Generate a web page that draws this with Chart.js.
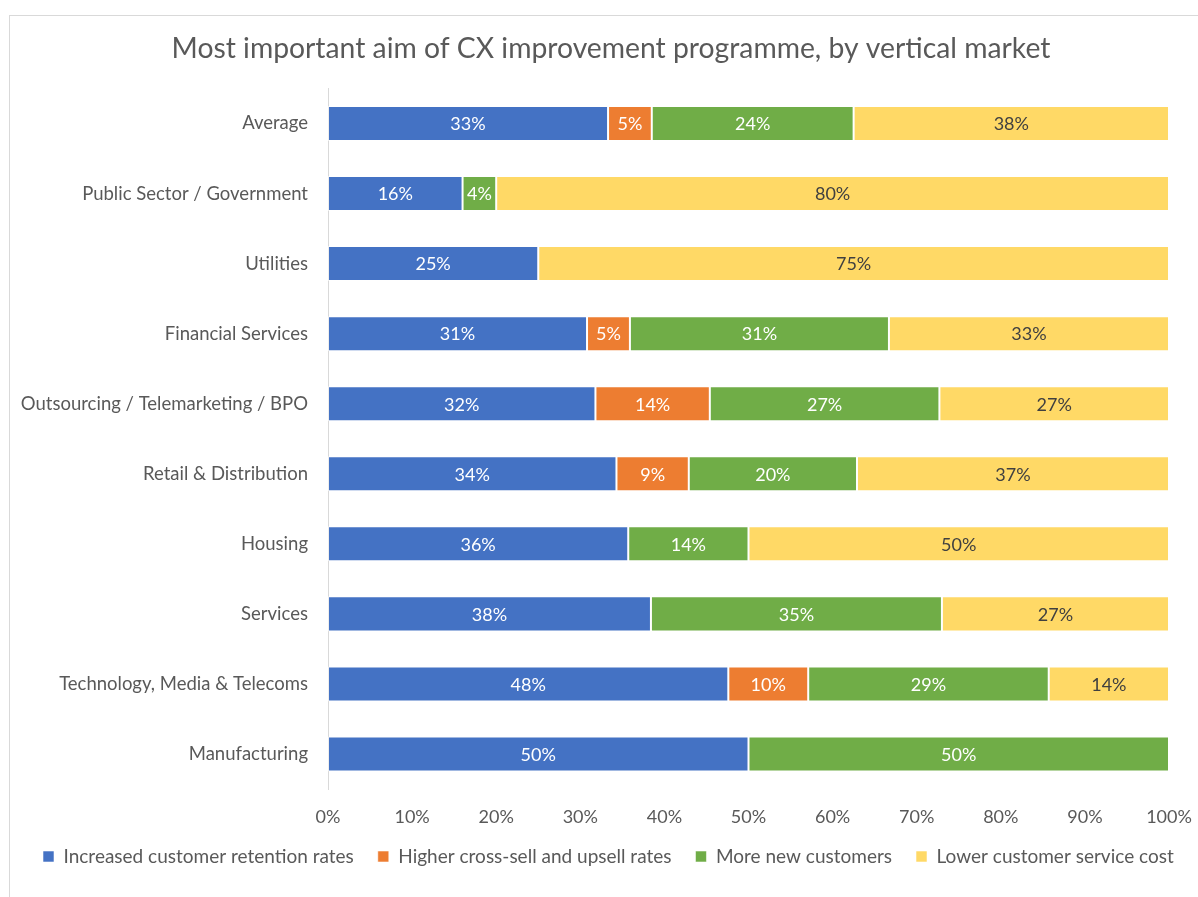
<!DOCTYPE html>
<html>
<head>
<meta charset="utf-8">
<script src="https://cdn.jsdelivr.net/npm/chart.js@4.4.1/dist/chart.umd.min.js"></script>
<style>
  html, body { margin: 0; padding: 0; background: #fff; overflow: hidden; width: 1198px; height: 897px; }
  #frame { position: absolute; left: 9px; top: 15px; width: 1300px; height: 1000px; border: 1px solid #d9d9d9; }
  #wrap { position: absolute; left: 0; top: 0; width: 1240px; height: 897px; }
</style>
</head>
<body>
<div id="frame"></div>
<div id="wrap"><canvas id="c" width="1240" height="897"></canvas></div>
<script>
const categories = [
  "Average",
  "Public Sector / Government",
  "Utilities",
  "Financial Services",
  "Outsourcing / Telemarketing / BPO",
  "Retail & Distribution",
  "Housing",
  "Services",
  "Technology, Media & Telecoms",
  "Manufacturing"
];
const seriesNames = [
  "Increased customer retention rates",
  "Higher cross-sell and upsell rates",
  "More new customers",
  "Lower customer service cost"
];
const retention = [33.3, 16, 25, 30.8, 31.8, 34.3, 35.7, 38.4, 47.6, 50];
const crossSell = [5.2, 0, 0, 5.1, 13.6, 8.6, 0, 0, 9.5, 0];
const newCustomers = [24.0, 4, 0, 30.8, 27.3, 20.0, 14.3, 34.6, 28.6, 50];
const lowerCost = [37.5, 80, 75, 33.3, 27.3, 37.1, 50, 27.0, 14.3, 0];
const xTicks = ["0%", "10%", "20%", "30%", "40%", "50%", "60%", "70%", "80%", "90%", "100%"];

const colors = ["#4472C4", "#ED7D31", "#70AD47", "#FFD966"];
const labelColors = ["#ffffff", "#ffffff", "#ffffff", "#404040"];
const FONT = "Lato, 'Open Sans', sans-serif";

const valueLabels = {
  id: 'valueLabels',
  afterDatasetsDraw(chart) {
    const ctx = chart.ctx;
    ctx.save();
    ctx.font = "18px " + FONT;
    ctx.textAlign = "center";
    ctx.textBaseline = "middle";
    chart.data.datasets.forEach((ds, di) => {
      const meta = chart.getDatasetMeta(di);
      meta.data.forEach((el, i) => {
        const v = ds.data[i];
        if (!v || v <= 0) return;
        const cx = (el.x + el.base) / 2;
        ctx.fillStyle = labelColors[di];
        ctx.fillText(Math.round(v) + "%", cx, el.y + 1);
      });
    });
    ctx.restore();
  }
};

const seriesData = [retention, crossSell, newCustomers, lowerCost];

new Chart(document.getElementById('c'), {
  type: 'bar',
  data: {
    labels: categories,
    datasets: seriesNames.map((n, i) => ({
      label: n,
      data: seriesData[i],
      backgroundColor: colors[i],
      borderColor: 'rgba(255,255,255,0.55)',
      borderWidth: 1,
      borderSkipped: false,
      barPercentage: 0.5,
      categoryPercentage: 1.0
    }))
  },
  options: {
    indexAxis: 'y',
    responsive: false,
    animation: false,
    layout: { padding: { left: 19, right: 37, top: 15, bottom: 21 } },
    scales: {
      x: {
        stacked: true,
        min: 0, max: 100,
        grid: { display: false, drawTicks: false },
        border: { display: false },
        ticks: {
          stepSize: 10,
          padding: 17,
          color: '#595959',
          font: { family: FONT, size: 18 },
          callback: (v, idx) => xTicks[idx]
        },
        afterFit: (s) => { s.height = 34; }
      },
      y: {
        stacked: true,
        grid: { display: false, drawTicks: false },
        border: { display: true, color: '#d9d9d9', width: 1 },
        ticks: {
          padding: 20,
          color: '#595959',
          font: { family: FONT, size: 18.5 }
        },
        afterFit: (s) => { s.width = 309; }
      },
      yPad: {
        type: 'linear',
        position: 'right',
        display: true,
        grid: { display: false, drawTicks: false },
        border: { display: false },
        ticks: { display: false },
        afterFit: (s) => { s.width = 34; }
      }
    },
    plugins: {
      title: {
        display: true,
        text: 'Most important aim of CX improvement programme, by vertical market',
        color: '#595959',
        font: { family: FONT, size: 28.3, weight: 'normal' },
        padding: { top: 17, bottom: 22.5 }
      },
      legend: {
        position: 'bottom',
        align: 'start',
        labels: {
          boxWidth: 11,
          boxHeight: 11,
          padding: 24,
          color: '#595959',
          font: { family: FONT, size: 19 }
        }
      },
      tooltip: { enabled: false }
    }
  },
  plugins: [valueLabels]
});
</script>
</body>
</html>
